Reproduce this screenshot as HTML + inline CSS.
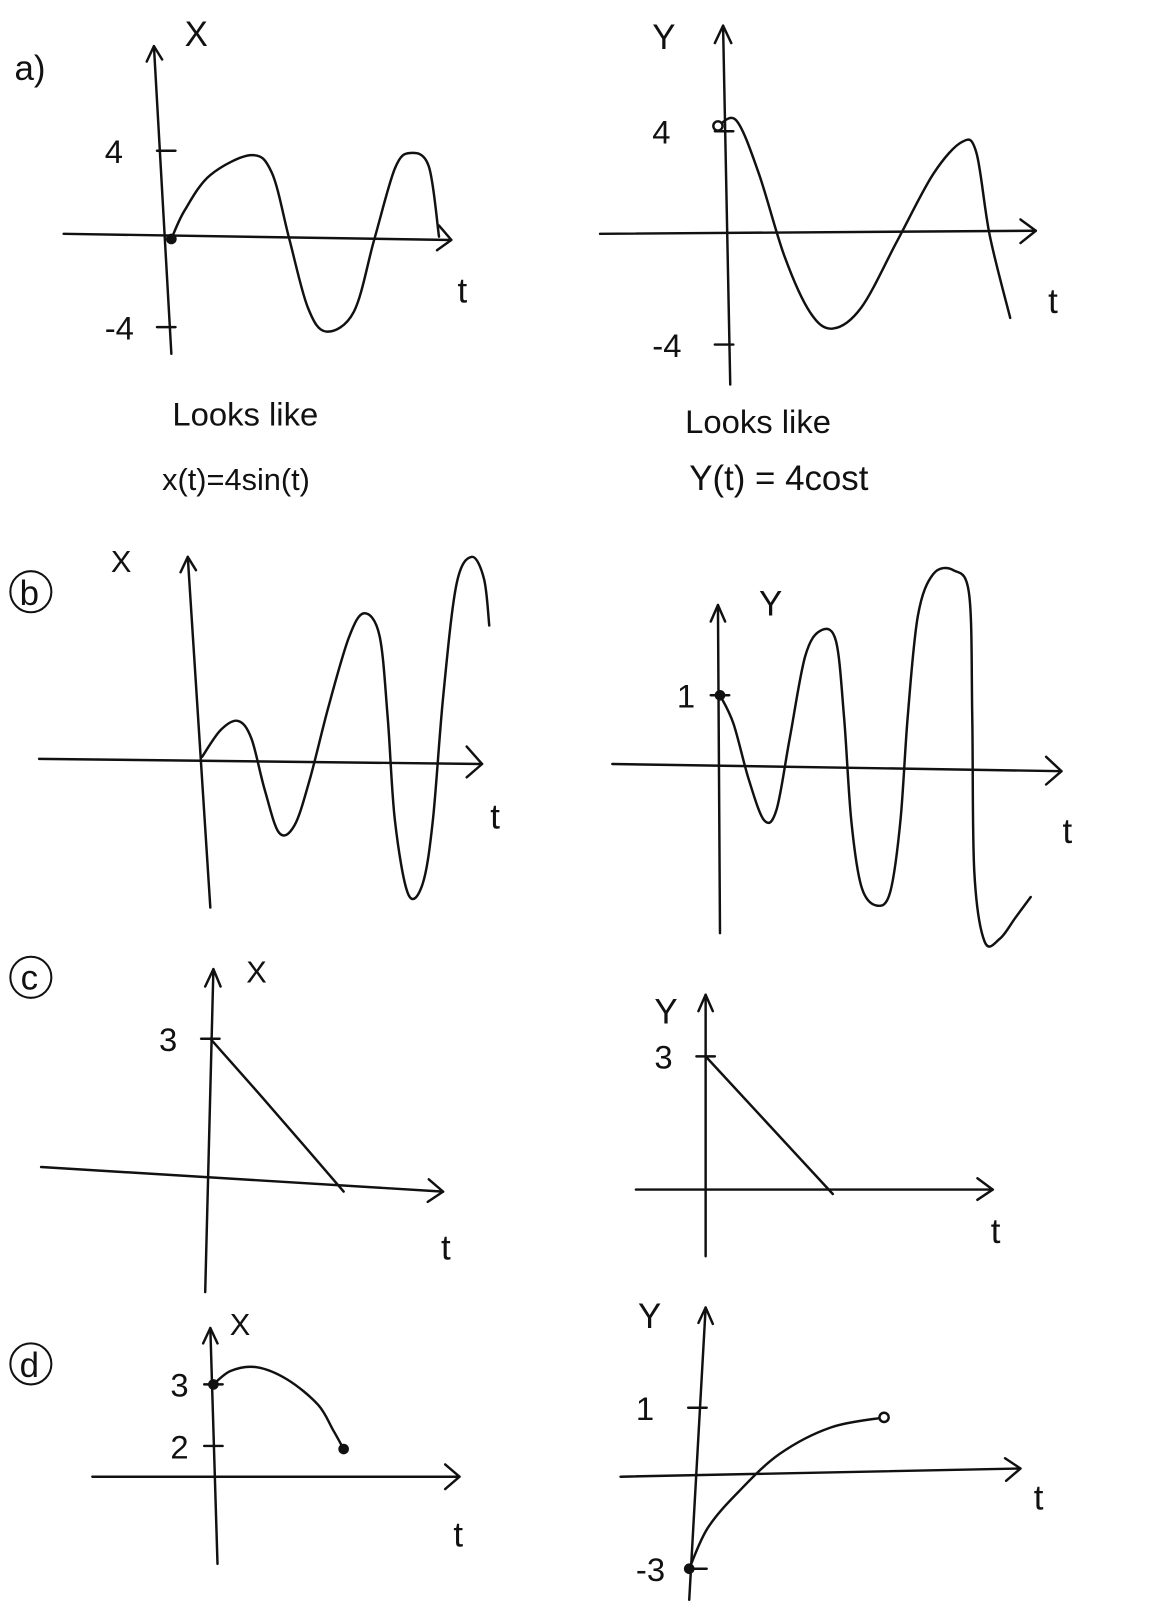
<!DOCTYPE html>
<html><head><meta charset="utf-8">
<style>
html,body{margin:0;padding:0;background:#fff;}
svg{display:block;}
text{font-family:"Liberation Sans",sans-serif;fill:#111;}
</style></head>
<body>
<svg id="s" width="1159" height="1609" viewBox="0 0 1130 1569">
<g fill="none" stroke="#111" stroke-width="2.4" stroke-linecap="round" stroke-linejoin="round">
  <line x1="62" y1="228" x2="440" y2="234"/>
  <polyline points="428,220 440,234 426,244"/>
  <line x1="150" y1="45" x2="167" y2="345"/>
  <polyline points="143,60 150,45 158,58"/>
  <line x1="585" y1="228" x2="1010" y2="225"/>
  <polyline points="995,214 1010,225 995,237"/>
  <line x1="705" y1="25" x2="712" y2="375"/>
  <polyline points="697,42 705,25 713,42"/>
  <line x1="38" y1="740" x2="470" y2="745"/>
  <polyline points="455,728 470,745 455,758"/>
  <line x1="183" y1="543" x2="205" y2="885"/>
  <polyline points="176,558 183,543 191,556"/>
  <line x1="597" y1="745" x2="1035" y2="752"/>
  <polyline points="1020,738 1035,752 1020,765"/>
  <line x1="700" y1="590" x2="702" y2="910"/>
  <polyline points="693,606 700,590 707,606"/>
  <line x1="40" y1="1138" x2="432" y2="1162"/>
  <polyline points="418,1150 432,1162 417,1172"/>
  <line x1="208" y1="945" x2="200" y2="1260"/>
  <polyline points="200,962 208,945 215,962"/>
  <line x1="620" y1="1160" x2="968" y2="1160"/>
  <polyline points="953,1149 968,1160 953,1170"/>
  <line x1="688" y1="970" x2="688" y2="1225"/>
  <polyline points="681,986 688,970 695,986"/>
  <line x1="90" y1="1440" x2="448" y2="1440"/>
  <polyline points="434,1428 448,1440 434,1452"/>
  <line x1="205" y1="1295" x2="212" y2="1525"/>
  <polyline points="198,1310 205,1295 212,1310"/>
  <line x1="605" y1="1440" x2="995" y2="1432"/>
  <polyline points="980,1422 995,1432 981,1444"/>
  <line x1="688" y1="1275" x2="672" y2="1560"/>
  <polyline points="681,1290 688,1275 695,1291"/>
</g>
<g id="marks" fill="none" stroke="#111" stroke-width="2.4" stroke-linecap="round"></g>
<g id="labels" font-size="34">
  <text x="14" y="78">a)</text>
  <text x="180" y="45">X</text>
  <text x="446" y="295">t</text>
  <text x="168" y="415" font-size="32">Looks like</text>
  <text x="158" y="478" font-size="30">x(t)=4sin(t)</text>
  <text x="636" y="48">Y</text>
  <text x="1022" y="305">t</text>
  <text x="668" y="422" font-size="32">Looks like</text>
  <text x="672" y="478" font-size="34">Y(t) = 4cost</text>
  <circle cx="30" cy="577" r="20" fill="none" stroke="#111" stroke-width="2"/>
  <text x="19" y="590">b</text>
  <text x="108" y="558" font-size="30">X</text>
  <text x="478" y="808">t</text>
  <text x="740" y="600">Y</text>
  <text x="1036" y="822">t</text>
  <circle cx="30" cy="953" r="20" fill="none" stroke="#111" stroke-width="2"/>
  <text x="20" y="965">c</text>
  <text x="240" y="958" font-size="30">X</text>
  <text x="430" y="1228">t</text>
  <text x="638" y="998">Y</text>
  <text x="966" y="1212">t</text>
  <circle cx="30" cy="1330" r="20" fill="none" stroke="#111" stroke-width="2"/>
  <text x="19" y="1343">d</text>
  <text x="224" y="1302" font-size="30">X</text>
  <text x="442" y="1508">t</text>
  <text x="622" y="1295">Y</text>
  <text x="1008" y="1472">t</text>
</g>
</svg>
<script>
const aLt=[0,1.3,3.8,7.8,9.8,11.5,13.3,15.1,17.8,19.8,21.8,23.3,25.1,26.1];
const aLv=[0,1.3,2.9,3.8,3.0,0,-3.1,-4.2,-3.3,0,3.2,3.9,3.3,0.1];
const aLticks=[4,-4];
const aRt=[-0.5,1.3,3.5,6,8.5,10.7,13.5,17,20.5,23.3,24.7,26,28];
const aRv=[4.2,4.4,2.4,-0.7,-2.8,-3.4,-2.6,-0.1,2.4,3.6,3.2,0.1,-3];
const aRticks=[4,-4];
const bLt=[0,1.8,3.5,4.8,6.1,7.5,9,10.5,12.3,14.3,15.8,17.3,18.1,18.8,20.1,21.5,22.5,23.5,24.8,26.3,27.5,28];
const bLv=[0.2,2.8,3.7,2,-3,-7.2,-6.5,-2,5,11.8,14.2,12,4,-6,-13.2,-12.2,-6,6,17,19.7,17.5,13];
const bLticks=[];
const bRt=[0,1.3,2.8,4.3,5.5,6.8,8.3,9.8,11.3,12.1,12.8,13.8,15.3,16.6,17.6,18.3,19.3,20.8,22.8,24.3,24.6,24.8,25.8,27.3,28.8,30.3];
const bRv=[1,0.61,-0.17,-0.74,-0.6,0.4,1.54,1.9,1.76,0.69,-0.74,-1.67,-1.93,-1.74,-0.74,0.69,2.11,2.69,2.74,2.4,0.69,-1.46,-2.43,-2.39,-2.1,-1.81];
const bRticks=[1];
const cLt=[0.2,5.7,13.2];
const cLv=[3,1.64,-0.26];
const cLticks=[3];
const cRt=[0,12.4];
const cRv=[3,-0.1];
const cRticks=[3];
const dLt=[0,1.7,4.2,7.2,10.2,11.7,12.7];
const dLv=[3,3.22,3.28,3.08,2.67,2.25,1.95];
const dLticks=[3,2];
const dRt=[0,1.8,4.8,8.8,13.8,19];
const dRv=[-3,-1.99,-1.09,-0.15,0.51,0.76];
const dRticks=[1,-3];

const panels=[
 {id:'a-left',t:aLt,v:aLv,ticks:aLticks,x0:167,y0:233,sx:10,sy:21.5,tickX:162,labX:-60,start:true},
 {id:'a-right',t:aRt,v:aRv,ticks:aRticks,x0:705,y0:232,sx:10,sy:26,tickX:706,labX:-70,startOpen:true},
 {id:'b-left',t:bLt,v:bLv,ticks:bLticks,x0:197,y0:740,sx:10,sy:10,tickX:197,labX:-40},
 {id:'b-right',t:bRt,v:bRv,ticks:bRticks,x0:702,y0:748,sx:10,sy:70,tickX:702,labX:-42,start:true},
 {id:'c-left',t:cLt,v:cLv,ticks:cLticks,x0:203,y0:1150,sx:10,sy:45.7,tickX:205,labX:-50},
 {id:'c-right',t:cRt,v:cRv,ticks:cRticks,x0:688,y0:1160,sx:10,sy:43.3,tickX:688,labX:-50},
 {id:'d-left',t:dLt,v:dLv,ticks:dLticks,x0:208,y0:1530,sx:10,sy:60,tickX:208,labX:-42,start:true,end:true},
 {id:'d-right',t:dRt,v:dRv,ticks:dRticks,x0:672,y0:1412,sx:10,sy:39.25,tickX:680,labX:-60,start:true,endOpen:true}
];
const NS='http://www.w3.org/2000/svg';
const marks=document.getElementById('marks');
function smooth(p){
  if(p.length<3){return 'M'+p.map(q=>q.join(',')).join(' L');}
  let d='M'+p[0][0]+','+p[0][1];
  for(let i=0;i<p.length-1;i++){
    const a=p[i-1]||p[i],b=p[i],c=p[i+1],e=p[i+2]||c;
    const c1=[b[0]+(c[0]-a[0])/6,b[1]+(c[1]-a[1])/6];
    const c2=[c[0]-(e[0]-b[0])/6,c[1]-(e[1]-b[1])/6];
    d+=' C'+c1[0].toFixed(1)+','+c1[1].toFixed(1)+' '+c2[0].toFixed(1)+','+c2[1].toFixed(1)+' '+c[0].toFixed(1)+','+c[1].toFixed(1);
  }
  return d;
}
panels.forEach(P=>{
  const X=t=>P.x0+t*P.sx, Y=v=>P.y0-v*P.sy;
  const pts=P.t.map((t,i)=>[X(t),Y(P.v[i])]);
  const path=document.createElementNS(NS,'path');
  path.setAttribute('d',smooth(pts));
  
  
  marks.appendChild(path);
  P.ticks.forEach(v=>{
    const l=document.createElementNS(NS,'line');
    l.setAttribute('x1',P.tickX-9);l.setAttribute('x2',P.tickX+9);
    l.setAttribute('y1',Y(v));l.setAttribute('y2',Y(v));
    
    
    marks.appendChild(l);
    const tx=document.createElementNS(NS,'text');
    tx.setAttribute('x',P.tickX+P.labX);tx.setAttribute('y',Y(v)+12);
    tx.setAttribute('font-size','32');tx.setAttribute('stroke','none');tx.setAttribute('fill','#111');
    tx.setAttribute('style','font-family:"Liberation Sans",sans-serif');
    tx.textContent=String(v);
    
    
    marks.appendChild(tx);
  });
  function dot(p,open){
    const c=document.createElementNS(NS,'circle');
    c.setAttribute('cx',p[0]);c.setAttribute('cy',p[1]);c.setAttribute('r',open?4.5:4);
    c.setAttribute('fill',open?'#fff':'#111');
    
    
    marks.appendChild(c);
  }
  if(P.start)dot(pts[0],false);
  if(P.startOpen)dot(pts[0],true);
  if(P.end)dot(pts[pts.length-1],false);
  if(P.endOpen)dot(pts[pts.length-1],true);
});
</script>
</body></html>
